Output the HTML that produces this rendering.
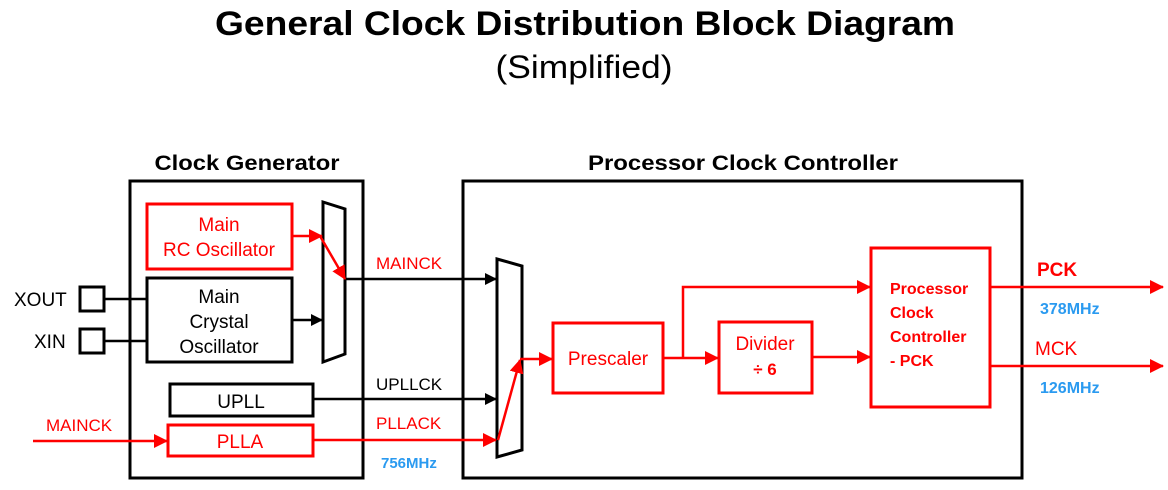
<!DOCTYPE html>
<html><head><style>body{margin:0;background:#fff}svg{display:block}</style></head><body>
<svg width="1168" height="490" viewBox="0 0 1168 490" xmlns="http://www.w3.org/2000/svg" font-family="Liberation Sans, Arial, sans-serif">
<defs>
<marker id="ab" markerWidth="12" markerHeight="12" refX="11" refY="6" orient="auto" markerUnits="userSpaceOnUse"><path d="M0,0 L12,6 L0,12z" fill="#000"/></marker>
<marker id="ar" markerWidth="14" markerHeight="14" refX="13" refY="7" orient="auto" markerUnits="userSpaceOnUse"><path d="M0,0 L14,7 L0,14z" fill="#f00"/></marker>
</defs>
<text x="585" y="35" font-size="34" font-weight="bold" text-anchor="middle" textLength="740" lengthAdjust="spacingAndGlyphs">General Clock Distribution Block Diagram</text>
<text x="584" y="78" font-size="32" text-anchor="middle" textLength="177" lengthAdjust="spacingAndGlyphs">(Simplified)</text>
<text x="247" y="170" font-size="21" font-weight="bold" text-anchor="middle" textLength="185" lengthAdjust="spacingAndGlyphs">Clock Generator</text>
<text x="743" y="170" font-size="21" font-weight="bold" text-anchor="middle" textLength="310" lengthAdjust="spacingAndGlyphs">Processor Clock Controller</text>
<g fill="none" stroke="#000" stroke-width="3">
<rect x="130" y="181" width="233" height="297"/>
<rect x="463" y="181" width="559" height="297"/>
<rect x="147" y="278" width="145" height="84"/>
<rect x="80" y="287" width="24" height="24"/>
<rect x="80" y="329" width="24" height="24"/>
<rect x="170" y="384" width="143" height="32"/>
<path d="M323,202 L345,209 L345,354 L323,362z"/>
<path d="M497,259 L522,266 L522,450 L497,457z"/>
</g>
<g stroke="#000" stroke-width="2.5">
<line x1="104" y1="299" x2="147" y2="299"/>
<line x1="104" y1="341" x2="147" y2="341"/>
<line x1="292" y1="320" x2="322" y2="320" marker-end="url(#ab)"/>
<line x1="345" y1="279" x2="496" y2="279" marker-end="url(#ab)"/>
<line x1="313" y1="399" x2="496" y2="399" marker-end="url(#ab)"/>
</g>
<g fill="none" stroke="#f00" stroke-width="3">
<rect x="147" y="204" width="145" height="65"/>
<rect x="168" y="425" width="145" height="31"/>
<rect x="553" y="323" width="110" height="70"/>
<rect x="719" y="322" width="93" height="71"/>
<rect x="871" y="248" width="119" height="159"/>
</g>
<g fill="none" stroke="#f00" stroke-width="2.5">
<line x1="292" y1="236" x2="322" y2="236" marker-end="url(#ar)"/>
<line x1="320" y1="236" x2="345" y2="279" marker-end="url(#ar)"/>
<line x1="33" y1="441" x2="167" y2="441" marker-end="url(#ar)"/>
<line x1="313" y1="440" x2="496" y2="440" marker-end="url(#ar)"/>
<line x1="498" y1="440" x2="520" y2="360" marker-end="url(#ar)"/>
<line x1="520" y1="359" x2="552" y2="359" marker-end="url(#ar)"/>
<line x1="663" y1="358" x2="718" y2="358" marker-end="url(#ar)"/>
<polyline points="683,358 683,287 870,287" marker-end="url(#ar)"/>
<line x1="812" y1="357" x2="870" y2="357" marker-end="url(#ar)"/>
<line x1="990" y1="287" x2="1163" y2="287" marker-end="url(#ar)"/>
<line x1="990" y1="366" x2="1163" y2="366" marker-end="url(#ar)"/>
</g>
<g font-size="19" text-anchor="middle">
<text x="219" y="231" fill="#f00">Main</text>
<text x="219" y="256" fill="#f00">RC Oscillator</text>
<text x="219" y="303">Main</text>
<text x="219" y="328">Crystal</text>
<text x="219" y="353">Oscillator</text>
<text x="241" y="408">UPLL</text>
<text x="240" y="448" fill="#f00">PLLA</text>
<text x="608" y="365" fill="#f00">Prescaler</text>
<text x="765" y="350" fill="#f00">Divider</text>
<text x="765" y="375" fill="#f00" font-size="17" font-weight="bold">÷ 6</text>
</g>
<g font-size="19">
<text x="14" y="306">XOUT</text>
<text x="34" y="348">XIN</text>
<text x="46" y="431" fill="#f00" font-size="17">MAINCK</text>
<text x="376" y="269" fill="#f00" font-size="17">MAINCK</text>
<text x="376" y="390" font-size="17">UPLLCK</text>
<text x="376" y="429" fill="#f00" font-size="17">PLLACK</text>
<text x="381" y="468" fill="#2a9af0" font-size="15" font-weight="bold">756MHz</text>
<text x="1037" y="276" fill="#f00" font-weight="bold">PCK</text>
<text x="1040" y="314" fill="#2a9af0" font-size="16" font-weight="bold">378MHz</text>
<text x="1035" y="355" fill="#f00">MCK</text>
<text x="1040" y="393" fill="#2a9af0" font-size="16" font-weight="bold">126MHz</text>
</g>
<g font-size="16" font-weight="bold" fill="#f00">
<text x="890" y="294">Processor</text>
<text x="890" y="318">Clock</text>
<text x="890" y="342">Controller</text>
<text x="890" y="366">- PCK</text>
</g>
</svg>
</body></html>
